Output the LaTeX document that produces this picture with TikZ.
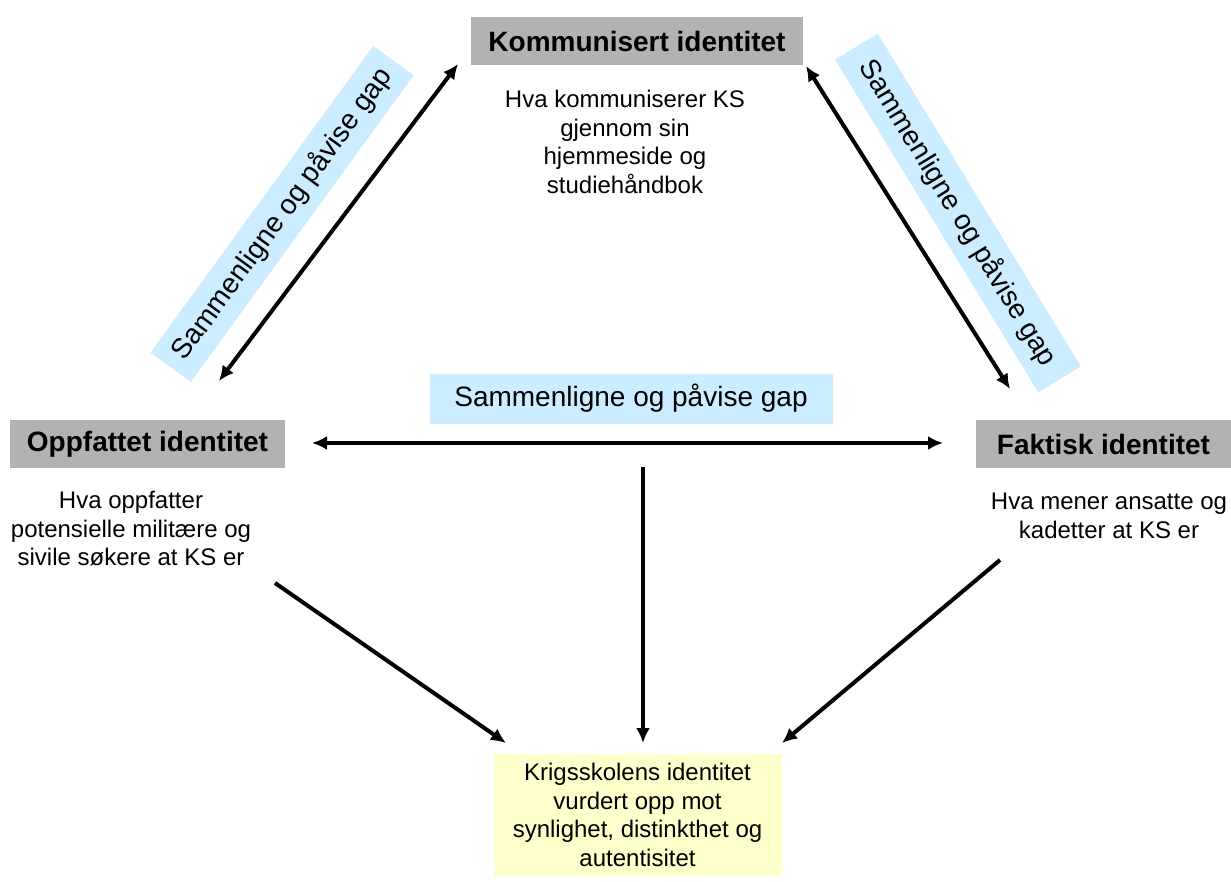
\documentclass[tikz,border=0pt]{standalone}
\usepackage{fontspec}
\setmainfont{Liberation Sans}
\usetikzlibrary{arrows.meta}
\definecolor{headgray}{RGB}{178,178,178}
\definecolor{gapblue}{RGB}{204,236,255}
\definecolor{resultyellow}{RGB}{255,255,204}

\begin{document}
\begin{tikzpicture}[x=1pt, y=-1pt, >={Latex[length=15pt,width=14pt]},
  heading/.style={fill=headgray, minimum height=48pt, inner sep=0pt, font=\fontsize{28}{32}\selectfont\bfseries},
  desc/.style={align=center, inner sep=0pt, font=\fontsize{24}{28.5}\selectfont},
  gaplabel/.style={fill=gapblue, minimum height=50pt, inner sep=0pt, font=\fontsize{28}{32}\selectfont},
  link/.style={line width=4pt}]
\useasboundingbox (0,0) rectangle (1231,882);

% Kommunisert identitet
\node[heading, minimum width=332pt] (komm) at (637,41) {Kommunisert identitet};
\node[desc] (kommtxt) at (625,142) {Hva kommuniserer KS\\gjennom sin\\hjemmeside og\\studiehåndbok};

% Oppfattet identitet
\node[heading, minimum width=275pt] (oppf) at (147.5,444) {Oppfattet identitet};
\node[desc] (oppftxt) at (131,529) {Hva oppfatter\\potensielle militære og\\sivile søkere at KS er};

% Faktisk identitet
\node[heading, minimum width=255pt] (fakt) at (1103.5,444) {Faktisk identitet};
\node[desc] (fakttxt) at (1109,516) {Hva mener ansatte og\\kadetter at KS er};

% Krigsskolens identitet
\node[desc, fill=resultyellow, minimum width=288pt, minimum height=122pt] (krigs) at (637.5,815)
  {Krigsskolens identitet\\vurdert opp mot\\synlighet, distinkthet og\\autentisitet};

% Sammenligne og påvise gap
\node[gaplabel, minimum width=403pt] (gapmid) at (631,398.5) {Sammenligne og påvise gap};
\node[gaplabel, minimum width=379pt, rotate=54] (gapleft) at (282,214) {Sammenligne og påvise gap};
\node[gaplabel, minimum width=390pt, rotate=-58.6] (gapright) at (958,213) {Sammenligne og påvise gap};

% Arrow ends
\coordinate (kommL) at (458,64);
\coordinate (oppfT) at (219,381);
\coordinate (kommR) at (806,66);
\coordinate (faktT) at (1010,389);
\coordinate (oppfR) at (312,443);
\coordinate (faktL) at (943,443);
\coordinate (midTop) at (643,467);
\coordinate (krigsT) at (643,743);
\coordinate (oppfB) at (275,583);
\coordinate (krigsL) at (506,743);
\coordinate (faktB) at (1000,560);
\coordinate (krigsR) at (782,743);

% Comparisons
\draw[link, <->] (kommL) -- (oppfT);
\draw[link, <->] (kommR) -- (faktT);
\draw[link, <->] (oppfR) -- (faktL);

% Towards Krigsskolen
\draw[link, ->] (midTop) -- (krigsT);
\draw[link, ->] (oppfB) -- (krigsL);
\draw[link, ->] (faktB) -- (krigsR);
\end{tikzpicture}
\end{document}
